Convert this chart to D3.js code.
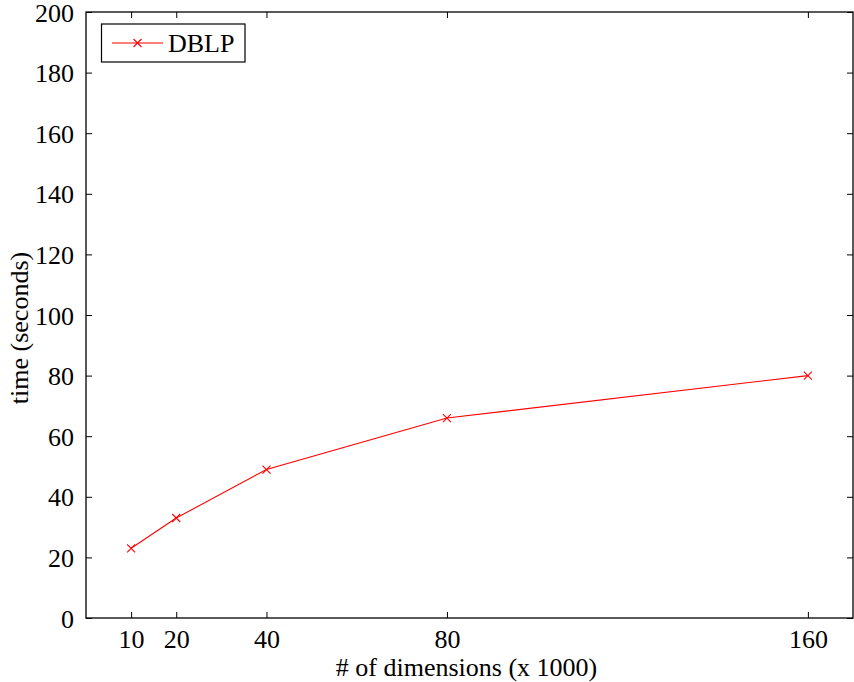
<!DOCTYPE html>
<html><head><meta charset="utf-8">
<script src="https://cdn.jsdelivr.net/npm/d3@7"></script>
<style>
html,body{margin:0;padding:0;background:#fff;}
svg text{font-family:"Liberation Serif","Times New Roman",Times,serif !important;fill:#000;}
</style></head>
<body><svg id="c" width="854" height="682"></svg>
<script>
const dimensions = [10, 20, 40, 80, 160];
const dblpTime = [23, 33, 49, 66, 80];
const xTicks = [10, 20, 40, 80, 160];
const yTicks = [0, 20, 40, 60, 80, 100, 120, 140, 160, 180, 200];
const seriesName = "DBLP";
const xLabel = "# of dimensions (x 1000)";
const yLabel = "time (seconds)";

const svg = d3.select("#c");
const L = 86, R = 853, T = 12, B = 618;
const x = d3.scaleLinear().domain([0, 170]).range([L, R]);
const y = d3.scaleLinear().domain([0, 200]).range([B, T]);
const fs = 26;
const ff = "'Liberation Serif','Times New Roman',Times,serif";

svg.append("rect").attr("x", L).attr("y", T).attr("width", R - L).attr("height", B - T)
  .attr("fill", "none").attr("stroke", "#000").attr("stroke-width", 1.3);

const tickLen = 6;
const bx = svg.append("g").attr("transform", `translate(0,${B})`)
  .call(d3.axisBottom(x).tickValues(xTicks).tickSizeInner(-tickLen).tickSizeOuter(0).tickPadding(12));
const tx = svg.append("g").attr("transform", `translate(0,${T})`)
  .call(d3.axisTop(x).tickValues(xTicks).tickSizeInner(-tickLen).tickSizeOuter(0).tickFormat(""));
const ly = svg.append("g").attr("transform", `translate(${L},0)`)
  .call(d3.axisLeft(y).tickValues(yTicks).tickSizeInner(-tickLen).tickSizeOuter(0).tickPadding(12));
const ry = svg.append("g").attr("transform", `translate(${R},0)`)
  .call(d3.axisRight(y).tickValues(yTicks).tickSizeInner(-tickLen).tickSizeOuter(0).tickFormat(""));
[bx, tx, ly, ry].forEach(g => {
  g.attr("font-family", null).attr("font-size", null);
  g.select(".domain").remove();
  g.selectAll(".tick line").attr("stroke", "#000").attr("stroke-width", 1);
  g.selectAll("text").style("font-family", ff).style("font-size", fs + "px").attr("fill", "#000");
});
ly.selectAll("text").attr("dy", "0.35em");
bx.selectAll("text").attr("dy", "0.71em");

svg.append("text").attr("x", (L + R) / 2 - 3).attr("y", 676).attr("text-anchor", "middle")
  .style("font-family", ff).style("font-size", fs + "px").text(xLabel);
svg.append("text").attr("transform", "translate(28,328) rotate(-90)").attr("text-anchor", "middle")
  .style("font-family", ff).style("font-size", fs + "px").text(yLabel);

const data = dimensions.map((d, i) => ({x: d, y: dblpTime[i]}));
svg.append("path").datum(data)
  .attr("fill", "none").attr("stroke", "#ff0000").attr("stroke-width", 1.1)
  .attr("d", d3.line().x(d => x(d.x)).y(d => y(d.y)));
const m = 4;
function cross(g, cx, cy) {
  g.append("path").attr("d", `M${cx - m},${cy - m}L${cx + m},${cy + m}M${cx - m},${cy + m}L${cx + m},${cy - m}`)
    .attr("stroke", "#ff0000").attr("stroke-width", 1.1).attr("fill", "none");
}
const mk = svg.append("g");
data.forEach(d => cross(mk, x(d.x), y(d.y)));

const lg = svg.append("g");
lg.append("rect").attr("x", 101.5).attr("y", 24).attr("width", 143.5).attr("height", 38)
  .attr("fill", "#fff").attr("stroke", "#000").attr("stroke-width", 1.2);
lg.append("line").attr("x1", 112).attr("x2", 163).attr("y1", 43).attr("y2", 43)
  .attr("stroke", "#ff0000").attr("stroke-width", 1.1);
cross(lg, 137.5, 43);
lg.append("text").attr("x", 168).attr("y", 52).style("font-family", ff).style("font-size", fs + "px").text(seriesName);
</script></body></html>
